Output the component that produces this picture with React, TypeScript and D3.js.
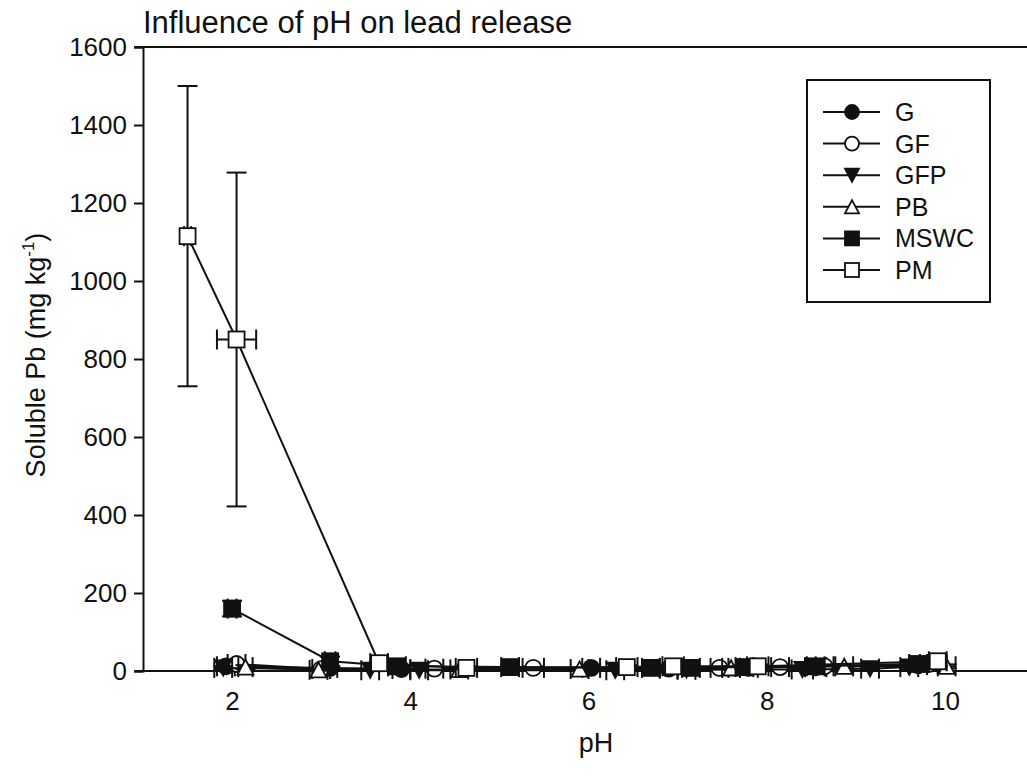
import React, { useEffect, useRef } from "react";
import * as d3 from "d3";

// ---- data ----
const seriesNames = ["G", "GF", "GFP", "PB", "MSWC", "PM"];
const markerKinds = ["circleFilled", "circleOpen", "triDownFilled", "triUpOpen", "squareFilled", "squareOpen"];

const gPH = [1.93, 3.1, 3.9, 6.03, 6.9, 7.8, 8.55, 9.7];
const gVal = [12, 8, 5, 8, 6, 8, 10, 15];
const gPHErr = [0.1, 0.08, 0.1, 0.1, 0.1, 0.1, 0.12, 0.1];
const gValErr = [8, 5, 3, 4, 3, 4, 5, 6];

const gfPH = [2.05, 3.0, 4.27, 5.38, 7.47, 8.15, 8.65, 9.82];
const gfVal = [18, 5, 6, 8, 8, 10, 12, 18];
const gfPHErr = [0.1, 0.1, 0.1, 0.12, 0.1, 0.1, 0.1, 0.1];
const gfValErr = [8, 3, 3, 4, 3, 4, 5, 6];

const gfpPH = [1.9, 3.55, 4.1, 6.3, 7.1, 8.4, 9.16, 9.6];
const gfpVal = [8, 2, 2, 2, 3, 4, 6, 10];
const gfpPHErr = [0.1, 0.1, 0.1, 0.1, 0.1, 0.12, 0.1, 0.1];
const gfpValErr = [5, 2, 2, 2, 2, 3, 3, 5];

const pbPH = [2.15, 2.97, 4.55, 5.9, 7.6, 8.87, 10.02];
const pbVal = [10, 3, 4, 5, 8, 12, 12];
const pbPHErr = [0.08, 0.1, 0.1, 0.1, 0.1, 0.1, 0.1];
const pbValErr = [5, 2, 2, 3, 4, 5, 5];

const mswcPH = [2.0, 3.1, 3.85, 5.12, 6.7, 7.15, 7.75, 8.55, 9.7];
const mswcVal = [160, 25, 12, 10, 8, 8, 10, 12, 18];
const mswcPHErr = [0.05, 0.06, 0.1, 0.1, 0.1, 0.1, 0.1, 0.1, 0.1];
const mswcValErr = [20, 12, 6, 4, 4, 4, 5, 6, 8];

const pmPH = [1.5, 2.05, 3.65, 4.63, 6.43, 6.95, 7.9, 9.92];
const pmVal = [1115, 850, 20, 8, 10, 12, 12, 25];
const pmPHErr = [0.04, 0.22, 0.1, 0.12, 0.12, 0.12, 0.12, 0.1];
const pmValErr = [385, 428, 6, 4, 5, 5, 5, 12];

const yTicks = [0, 200, 400, 600, 800, 1000, 1200, 1400, 1600];
const xTicks = [2, 4, 6, 8, 10];

const title = "Influence of pH on lead release";
const xLabel = "pH";

export default function App() {
  const ref = useRef<SVGSVGElement>(null);

  useEffect(() => {
    const svg = d3.select(ref.current);
    svg.selectAll("*").remove();
    const font = "Liberation Sans, Arial, sans-serif";

    const x = d3.scaleLinear().domain([1, 11]).range([143, 1034]);
    const y = d3.scaleLinear().domain([0, 1600]).range([671, 47]);

    const series = [
      { ph: gPH, v: gVal, phe: gPHErr, ve: gValErr },
      { ph: gfPH, v: gfVal, phe: gfPHErr, ve: gfValErr },
      { ph: gfpPH, v: gfpVal, phe: gfpPHErr, ve: gfpValErr },
      { ph: pbPH, v: pbVal, phe: pbPHErr, ve: pbValErr },
      { ph: mswcPH, v: mswcVal, phe: mswcPHErr, ve: mswcValErr },
      { ph: pmPH, v: pmVal, phe: pmPHErr, ve: pmValErr },
    ];

    // Title
    svg.append("text").attr("x", 143).attr("y", 33).attr("font-family", font)
      .attr("font-size", 31).attr("fill", "#111").text(title);

    // frame lines (top & bottom) and y axis
    svg.append("line").attr("x1", 135).attr("x2", 1034).attr("y1", y(1600)).attr("y2", y(1600))
      .attr("stroke", "#111").attr("stroke-width", 2);
    svg.append("line").attr("x1", 135).attr("x2", 1034).attr("y1", y(0)).attr("y2", y(0))
      .attr("stroke", "#111").attr("stroke-width", 2);

    const yAxis = d3.axisLeft(y).tickValues(yTicks).tickSize(9).tickPadding(7).tickFormat(d3.format("d"));
    const yg = svg.append("g").attr("transform", "translate(143,0)").call(yAxis);
    yg.select(".domain").attr("stroke", "#111").attr("stroke-width", 2);
    yg.selectAll(".tick line").attr("stroke", "#111").attr("stroke-width", 2);
    yg.selectAll(".tick text").attr("font-family", font).attr("font-size", 26).attr("fill", "#111");

    const xAxis = d3.axisBottom(x).tickValues(xTicks).tickSize(0).tickPadding(21).tickFormat(d3.format("d"));
    const xg = svg.append("g").attr("transform", `translate(0,${y(0)})`).call(xAxis);
    xg.select(".domain").remove();
    xg.selectAll(".tick text").attr("font-family", font).attr("font-size", 26).attr("fill", "#111");

    // axis titles
    svg.append("text").attr("x", 596).attr("y", 752).attr("text-anchor", "middle")
      .attr("font-family", font).attr("font-size", 27).attr("fill", "#111").text(xLabel);

    const yl = svg.append("text").attr("transform", "translate(45,355) rotate(-90)")
      .attr("text-anchor", "middle").attr("font-family", font).attr("font-size", 27).attr("fill", "#111");
    yl.append("tspan").text("Soluble Pb (mg kg");
    yl.append("tspan").attr("font-size", 17).attr("dy", -11).text("-1");
    yl.append("tspan").attr("dy", 11).text(")");

    const drawMarker = (g: any, kind: string, cx: number, cy: number, s: number) => {
      const fill = kind.includes("Filled") ? "#111" : "#fff";
      const common = (el: any) => el.attr("fill", fill).attr("stroke", "#111").attr("stroke-width", 1.8);
      if (kind.startsWith("circle")) {
        common(g.append("circle").attr("cx", cx).attr("cy", cy).attr("r", s / 2));
      } else if (kind.startsWith("square")) {
        common(g.append("rect").attr("x", cx - s / 2).attr("y", cy - s / 2).attr("width", s).attr("height", s));
      } else if (kind === "triDownFilled") {
        const h = s * 0.95;
        common(g.append("path").attr("d", `M${cx - s / 2},${cy - h / 2}L${cx + s / 2},${cy - h / 2}L${cx},${cy + h / 2}Z`));
      } else {
        const h = s * 0.95;
        common(g.append("path").attr("d", `M${cx - s / 2},${cy + h / 2}L${cx + s / 2},${cy + h / 2}L${cx},${cy - h / 2}Z`));
      }
    };

    const plot = svg.append("g");
    series.forEach((s, si) => {
      const g = plot.append("g");
      const pts = s.ph.map((p, i) => [x(p), y(s.v[i])] as [number, number]);
      g.append("path").attr("d", d3.line()(pts)).attr("fill", "none").attr("stroke", "#111").attr("stroke-width", 2);
      s.ph.forEach((p, i) => {
        const cx = x(p), cy = y(s.v[i]);
        const x0 = x(p - s.phe[i]), x1 = x(p + s.phe[i]);
        const y0 = y(s.v[i] - s.ve[i]), y1 = y(s.v[i] + s.ve[i]);
        const st = (el: any) => el.attr("stroke", "#111").attr("stroke-width", 2);
        // horizontal error bar
        st(g.append("line").attr("x1", x0).attr("x2", x1).attr("y1", cy).attr("y2", cy));
        st(g.append("line").attr("x1", x0).attr("x2", x0).attr("y1", cy - 10).attr("y2", cy + 10));
        st(g.append("line").attr("x1", x1).attr("x2", x1).attr("y1", cy - 10).attr("y2", cy + 10));
        // vertical error bar
        st(g.append("line").attr("x1", cx).attr("x2", cx).attr("y1", y0).attr("y2", y1));
        st(g.append("line").attr("x1", cx - 10).attr("x2", cx + 10).attr("y1", y0).attr("y2", y0));
        st(g.append("line").attr("x1", cx - 10).attr("x2", cx + 10).attr("y1", y1).attr("y2", y1));
      });
      s.ph.forEach((p, i) => drawMarker(g, markerKinds[si], x(p), y(s.v[i]), 16));
    });

    // legend
    const lg = svg.append("g");
    lg.append("rect").attr("x", 807).attr("y", 80).attr("width", 183).attr("height", 222)
      .attr("fill", "#fff").attr("stroke", "#111").attr("stroke-width", 2);
    const rowY = d3.scalePoint<string>().domain(seriesNames).range([112, 270]);
    seriesNames.forEach((n, i) => {
      const yy = rowY(n)!;
      lg.append("line").attr("x1", 823).attr("x2", 880).attr("y1", yy).attr("y2", yy)
        .attr("stroke", "#111").attr("stroke-width", 2);
      drawMarker(lg, markerKinds[i], 852, yy, 14);
      lg.append("text").attr("x", 895).attr("y", yy + 9).attr("font-family", font)
        .attr("font-size", 25).attr("fill", "#111").text(n);
    });
  }, []);

  return (
    <svg ref={ref} width={1027} height={778}
      style={{ position: "absolute", left: 0, top: 0, background: "#fff" }} />
  );
}
